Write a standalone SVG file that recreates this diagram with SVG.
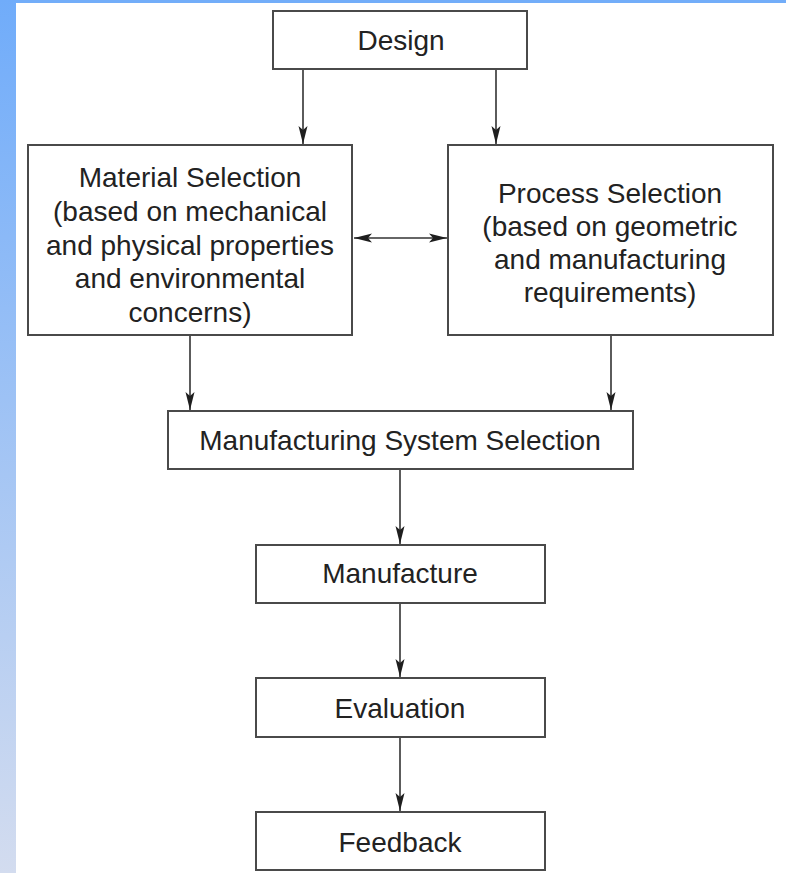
<svg xmlns="http://www.w3.org/2000/svg" width="786" height="873" viewBox="0 0 786 873">
<style>
.box{fill:#ffffff;stroke:#4a4a4a;stroke-width:2}
.t{font-family:"Liberation Sans",Arial,sans-serif;font-size:28px;fill:#222222;text-anchor:middle}
.c{stroke:#333333;stroke-width:1.6;fill:none}
</style>
<defs>
<linearGradient id="side" x1="0" y1="0" x2="0" y2="1">
<stop offset="0" stop-color="#70acfa"/>
<stop offset="1" stop-color="#d3dcef"/>
</linearGradient>
<marker id="ah" viewBox="0 0 18 10" refX="18" refY="5" markerWidth="18" markerHeight="10" markerUnits="userSpaceOnUse" orient="auto-start-reverse">
<path d="M0,0.5 L18,5 L0,9.5 L4,5 Z" fill="#1e1e1e"/>
</marker>
</defs>
<rect x="0" y="0" width="786" height="873" fill="#ffffff"/>
<rect x="0" y="0" width="786" height="3" fill="#72adf9"/>
<rect x="0" y="0" width="16" height="873" fill="url(#side)"/>

<g id="connectors">
<line class="c" x1="303" y1="70" x2="303" y2="144" marker-end="url(#ah)"/>
<line class="c" x1="496" y1="70" x2="496" y2="144" marker-end="url(#ah)"/>
<line class="c" x1="354" y1="238" x2="447" y2="238" marker-start="url(#ah)" marker-end="url(#ah)"/>
<line class="c" x1="190" y1="336" x2="190" y2="410" marker-end="url(#ah)"/>
<line class="c" x1="611" y1="336" x2="611" y2="410" marker-end="url(#ah)"/>
<line class="c" x1="400" y1="470" x2="400" y2="544" marker-end="url(#ah)"/>
<line class="c" x1="400" y1="604" x2="400" y2="677" marker-end="url(#ah)"/>
<line class="c" x1="400" y1="738" x2="400" y2="811" marker-end="url(#ah)"/>
</g>

<g id="design">
<rect class="box" x="273" y="11" width="254" height="58"/>
<text class="t" x="401" y="50">Design</text>
</g>

<g id="material">
<rect class="box" x="28" y="145" width="324" height="190"/>
<text class="t" x="190" y="187">Material Selection</text>
<text class="t" x="190" y="221">(based on mechanical</text>
<text class="t" x="190" y="255">and physical properties</text>
<text class="t" x="190" y="288">and environmental</text>
<text class="t" x="190" y="322">concerns)</text>
</g>

<g id="process">
<rect class="box" x="448" y="145" width="325" height="190"/>
<text class="t" x="610" y="203">Process Selection</text>
<text class="t" x="610" y="236">(based on geometric</text>
<text class="t" x="610" y="269">and manufacturing</text>
<text class="t" x="610" y="302">requirements)</text>
</g>

<g id="mss">
<rect class="box" x="168" y="411" width="465" height="58"/>
<text class="t" x="400" y="450">Manufacturing System Selection</text>
</g>

<g id="manufacture">
<rect class="box" x="256" y="545" width="289" height="58"/>
<text class="t" x="400" y="583">Manufacture</text>
</g>

<g id="evaluation">
<rect class="box" x="256" y="678" width="289" height="59"/>
<text class="t" x="400" y="718">Evaluation</text>
</g>

<g id="feedback">
<rect class="box" x="256" y="812" width="289" height="58"/>
<text class="t" x="400" y="852">Feedback</text>
</g>
</svg>
